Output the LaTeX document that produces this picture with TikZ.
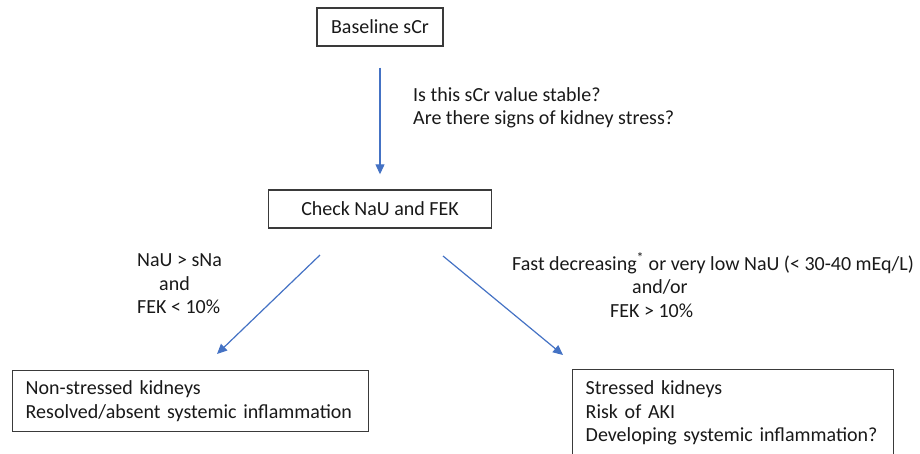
\documentclass[tikz,border=0pt]{standalone}
\usepackage{fontspec}
\setmainfont{Carlito}
\usetikzlibrary{arrows.meta}

\definecolor{flowblue}{HTML}{4472C4}
\definecolor{boxgray}{HTML}{3A3A3A}

\begin{document}
\begin{tikzpicture}[x=1pt, y=-1pt,
    txt/.style={font=\fontsize{20}{23.5}\selectfont, inner sep=0pt, text=black!90},
    box/.style={txt, draw=boxgray, line width=1.4pt, fill=white},
    flow/.style={flowblue, line width=1.2pt, -{Triangle[length=10pt,width=9pt]}}]
  \useasboundingbox (0,0) rectangle (920,453);

  % the two steps at the top
  \node[box, minimum width=126pt, minimum height=38pt] (base) at (380,27) {Baseline sCr};
  \node[box, minimum width=223pt, minimum height=38pt] (check) at (380,209) {Check NaU and FEK};

  \draw[flow, shorten <=21pt, shorten >=15pt] (base) -- (check);
  \node[txt, anchor=west, align=left] (ask) at (413,108)
    {Is this sCr value stable?\\Are there signs of kidney stress?};

  % split into the two outcomes
  \coordinate (splitL) at (320,255);
  \coordinate (tipL)   at (217,354);
  \coordinate (splitR) at (443,256);
  \coordinate (tipR)   at (563,355);
  \draw[flow] (splitL) -- (tipL);
  \draw[flow] (splitR) -- (tipR);

  \node[txt, anchor=west, align=left] (condL) at (137,284)
    {NaU > sNa\\\hspace*{22pt}and\\FEK < 10\%};
  \node[txt, anchor=west, align=left] (condR) at (512,285)
    {Fast decreasing\textsuperscript{*} or very low NaU (< 30-40 mEq/L)\\
     \hspace*{120pt}and/or\\\hspace*{98pt}FEK > 10\%};

  % outcome boxes (right one runs off the page)
  \node[box, anchor=north west, align=left, text width=330pt, inner xsep=13pt,
        minimum height=61pt] (calm) at (12,370)
    {Non-stressed kidneys\\Resolved/absent systemic inflammation};
  \node[box, anchor=north west, align=left, text width=295pt, inner xsep=13pt,
        minimum height=87pt] (stress) at (572,369)
    {Stressed kidneys\\Risk of AKI\\Developing systemic inflammation?};
\end{tikzpicture}
\end{document}
